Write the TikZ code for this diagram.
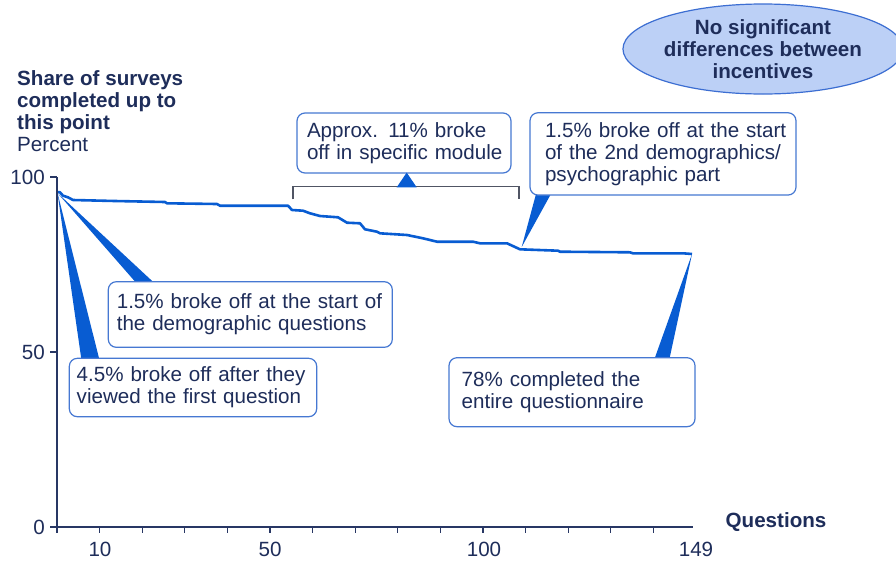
\documentclass[tikz,border=0pt]{standalone}
\usepackage{fontspec}
\setmainfont{Liberation Sans}
\usetikzlibrary{shapes.geometric,calc}
\pgfdeclarelayer{paper}
\pgfdeclarelayer{background}
\pgfsetlayers{paper,background,main}
\definecolor{curveblue}{RGB}{8,92,210}
\definecolor{boxborder}{RGB}{70,120,210}
\definecolor{textnavy}{RGB}{30,45,90}
\definecolor{axisnavy}{RGB}{40,55,100}
\definecolor{ellfill}{RGB}{188,208,246}
\definecolor{ellborder}{RGB}{60,110,210}
\definecolor{bracketgray}{RGB}{80,85,100}
\tikzset{
  txt/.style={font=\fontsize{20.6}{22}\selectfont, text=textnavy, inner sep=0pt},
  boldtxt/.style={txt, font=\fontsize{20.6}{22}\selectfont\bfseries},
  callout/.style={draw=boxborder, line width=1.2pt, fill=white, rounded corners=8pt,
    font=\fontsize{20.6}{22}\selectfont, text=textnavy, align=left, inner ysep=0pt},
  wedge/.style={fill=curveblue, draw=none},
  axisline/.style={draw=axisnavy, line width=1.2pt},
  curveline/.style={draw=curveblue, line width=2.6pt, line join=round},
}
\begin{document}
\begin{tikzpicture}[x=1pt, y={(0,-1pt)}]
\begin{pgfonlayer}{paper}
\fill[white] (0,0) rectangle (896,563);
\end{pgfonlayer}
\useasboundingbox (0,0) rectangle (896,563);

% axes
\coordinate (o) at (57,527);
\coordinate (ytop) at (57,177);
\coordinate (xend) at (693,527);
\draw[axisline] (ytop) -- (o) -- (xend);
\foreach \y in {177,352,527} \draw[axisline] (50,\y) -- (57,\y);
\foreach \k in {0,...,14} \draw[axisline] (57+42.6*\k,527) -- (57+42.6*\k,533);

\node[txt, anchor=east] (l100) at (45,177) {100};
\node[txt, anchor=east] (l50) at (45,352) {50};
\node[txt, anchor=east] (l0) at (45,527) {0};
\node[txt] (x10) at (100,549) {10};
\node[txt] (x50) at (270,549) {50};
\node[txt] (x100) at (484,549) {100};
\node[txt] (x149) at (696,549) {149};
\node[boldtxt] (qlab) at (776,522) {Questions};

\node[txt, anchor=west, align=left] (ytitle) at (17,111)
  {\textbf{Share of surveys}\\\textbf{completed up to}\\\textbf{this point}\\Percent};

\coordinate (s0) at (57.5,193);
\coordinate (s2) at (521.7,247);
\coordinate (s3) at (692,254);

% boxes
\node[callout, minimum width=284pt, minimum height=65.6pt, text width=267pt, inner xsep=8.4pt] (b4) at (250.3,314.5)
  {\mbox{1.5\% broke off at the start of}\\\mbox{the demographic questions}};
\node[callout, minimum width=247.4pt, minimum height=58.4pt, text width=232.6pt, inner xsep=7.4pt] (b5) at (193,387.5)
  {\mbox{4.5\% broke off after they}\\\mbox{viewed the first question}};
\node[callout, minimum width=214pt, minimum height=60pt, text width=194pt, inner xsep=10pt] (b1) at (404,143)
  {\mbox{Approx. 11\% broke}\\\mbox{off in specific module}};
\node[callout, minimum width=266pt, minimum height=82.3pt, text width=236pt, inner xsep=15pt] (b2) at (663,153.9)
  {\mbox{1.5\% broke off at the start}\\\mbox{of the 2nd demographics/}\\\mbox{psychographic part}};
\node[callout, minimum width=246pt, minimum height=69pt, text width=220.6pt, inner xsep=12.7pt] (b3) at (572,392.2)
  {\mbox{78\% completed the}\\\mbox{entire questionnaire}};

\begin{pgfonlayer}{background}
% curve
\draw[curveline] plot coordinates {(57,192) (60,192.3) (63,195.7) (68,197.3) (73,200) (115,201) (165,202) (167,203.3) (217,204) (220,205.7) (288,205.7) (292,210) (303,210.7) (310,213.3) (320,216) (338,217.3) (347,222.7) (360,223.3) (365,229.3) (377,231.7) (380,233.3) (407,235) (423,238.3) (437,241.7) (473,241.7) (480,243.3) (507,243.3) (520,249.3) (558,250.7) (560,251.7) (630,252.3) (633,253.3) (683,253.3) (692,254)};
% wedges
\fill[wedge] (s0) -- ($(b4.north west)+(28.7,2)$) -- ($(b4.north west)+(46.7,2)$) -- cycle;
\fill[wedge] (s0) -- ($(b5.north west)+(12.7,2)$) -- ($(b5.north west)+(30.7,2)$) -- cycle;
\fill[wedge] (s2) -- ($(b2.south west)+(6.7,-2)$) -- ($(b2.south west)+(21.7,-2)$) -- cycle;
\fill[wedge] (s3) -- ($(b3.north west)+(206,2)$) -- ($(b3.north west)+(221,2)$) -- cycle;
\end{pgfonlayer}

% bracket
\coordinate (brl) at (293,199.3);
\coordinate (brr) at (519,199.3);
\draw[draw=bracketgray, line width=1.2pt] (brl) -- (293,186.7) -- (519,186.7) -- (brr);
\fill[wedge] ($(b1.south)+(2.7,-1)$) -- (396.7,187.3) -- (416.7,187.3) -- cycle;

% ellipse
\node[ellipse, draw=ellborder, line width=1.2pt, fill=ellfill, minimum width=258pt, minimum height=90pt,
  inner sep=0pt, align=center, font=\fontsize{20.6}{22}\selectfont\bfseries, text=textnavy] (ell) at (763,49)
  {No significant\\differences between\\incentives};
\end{tikzpicture}
\end{document}
